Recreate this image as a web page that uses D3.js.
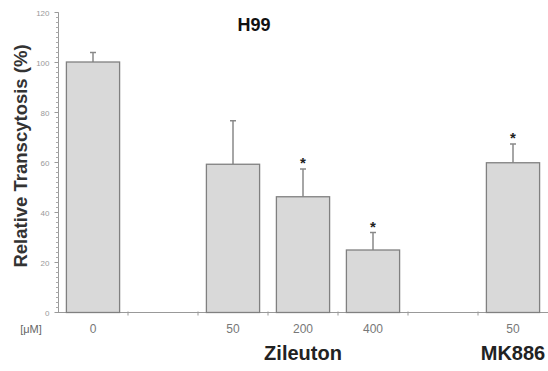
<!DOCTYPE html>
<html>
<head>
<script src="https://d3js.org/d3.v7.min.js"></script>
<style>
  body { margin: 0; background: #fff; }
  text { font-family: "Liberation Sans", Arial, sans-serif; }
</style>
</head>
<body>
<div id="chart"></div>
<script>
// data
const slots = ["0", "gap1", "50", "200", "400", "gap2", "50mk"];
const doseLabels = ["0", "", "50", "200", "400", "", "50"];
const means = [100.2, null, 59.3, 46.3, 25, null, 59.9];
const errTops = [104, null, 76.7, 57.4, 32, null, 67.4];
const signif = [false, false, false, true, true, false, true];
const yTicks = [0, 20, 40, 60, 80, 100, 120];

const W = 548, H = 371;
const svg = d3.select("#chart").append("svg")
  .attr("width", W).attr("height", H);

const x = d3.scaleBand().domain(slots).range([58, 548]).paddingInner(0.24).paddingOuter(0.12);
const y = d3.scaleLinear().domain([0, 120]).range([312.5, 12.5]);
const step = x.step();
const half = (step - x.bandwidth()) / 2;
const cx = s => x(s) + x.bandwidth() / 2;

// y axis with minor ticks
const yAxis = svg.append("g").attr("transform", "translate(58.5,0)");
yAxis.append("line").attr("y1", y(0)).attr("y2", y(120)).attr("stroke", "#999");
yAxis.selectAll(".minor").data(d3.range(0, 121, 2)).join("line")
  .attr("x1", -2.5).attr("x2", 0).attr("y1", d => y(d)).attr("y2", d => y(d))
  .attr("stroke", "#aaa");
yAxis.selectAll(".major").data(yTicks).join("line")
  .attr("x1", -4).attr("x2", 0).attr("y1", d => y(d)).attr("y2", d => y(d))
  .attr("stroke", "#999");
yAxis.selectAll("text").data(yTicks).join("text")
  .attr("x", -9).attr("y", d => y(d) + 3)
  .attr("text-anchor", "end").attr("font-size", 8).attr("fill", "#999")
  .text(d => d);

// x axis
svg.append("line").attr("x1", 58).attr("x2", 548).attr("y1", y(0)).attr("y2", y(0)).attr("stroke", "#999");
svg.selectAll(".xt").data(slots.slice(1)).join("line")
  .attr("x1", d => x(d) - half).attr("x2", d => x(d) - half)
  .attr("y1", y(0) - 1).attr("y2", y(0) + 3).attr("stroke", "#999");

const data = slots.map((s, i) => ({ s, m: means[i], e: errTops[i], star: signif[i], lab: doseLabels[i] }));
const bars = data.filter(d => d.m !== null);

// error bars (upper only)
svg.selectAll(".err").data(bars).join("line")
  .attr("x1", d => cx(d.s)).attr("x2", d => cx(d.s))
  .attr("y1", d => y(d.m)).attr("y2", d => y(d.e)).attr("stroke", "#888").attr("stroke-width", 1.5);
svg.selectAll(".cap").data(bars).join("line")
  .attr("x1", d => cx(d.s) - 3).attr("x2", d => cx(d.s) + 3)
  .attr("y1", d => y(d.e)).attr("y2", d => y(d.e)).attr("stroke", "#888").attr("stroke-width", 1.5);

// bars
svg.selectAll(".bar").data(bars).join("rect")
  .attr("x", d => x(d.s)).attr("width", x.bandwidth())
  .attr("y", d => y(d.m)).attr("height", d => y(0) - y(d.m))
  .attr("fill", "#d9d9d9").attr("stroke", "#808080").attr("stroke-width", 1.3);

// significance stars
svg.selectAll(".star").data(bars.filter(d => d.star)).join("text")
  .attr("x", d => cx(d.s)).attr("y", d => y(d.e) - 1)
  .attr("text-anchor", "middle").attr("font-size", 15).attr("font-weight", "bold").attr("fill", "#222")
  .text("*");

// dose labels
svg.selectAll(".dose").data(bars).join("text")
  .attr("x", d => cx(d.s)).attr("y", 333)
  .attr("text-anchor", "middle").attr("font-size", 12).attr("fill", "#777")
  .text(d => d.lab);
svg.append("text").attr("x", 31).attr("y", 333).attr("text-anchor", "middle")
  .attr("font-size", 11).attr("fill", "#666").text("[μM]");

// group labels
svg.append("text").attr("x", cx("200")).attr("y", 360)
  .attr("text-anchor", "middle").attr("font-family", "Lato").attr("font-size", 20).attr("font-weight", "bold").attr("fill", "#222")
  .text("Zileuton");
svg.append("text").attr("x", cx("50mk")).attr("y", 360)
  .attr("text-anchor", "middle").attr("font-family", "Lato").attr("font-size", 20).attr("font-weight", "bold").attr("fill", "#222")
  .text("MK886");

// title
svg.append("text").attr("x", 254).attr("y", 31).attr("text-anchor", "middle")
  .attr("font-size", 18).attr("font-weight", "bold").attr("fill", "#111").text("H99");

// y label
svg.append("text").attr("transform", "translate(27,156) rotate(-90)")
  .attr("text-anchor", "middle").attr("font-size", 18.5).attr("font-weight", "bold").attr("fill", "#333")
  .text("Relative Transcytosis (%)");
</script>
</body>
</html>
